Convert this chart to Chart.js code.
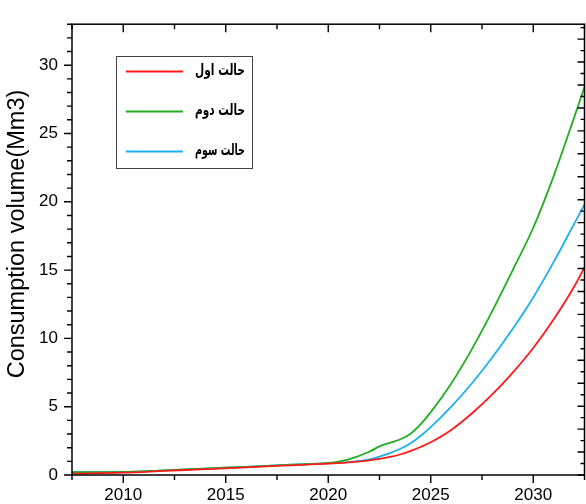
<!DOCTYPE html>
<html>
<head>
<meta charset="utf-8">
<script src="https://cdn.jsdelivr.net/npm/chart.js"></script>
<style>
  html, body { margin: 0; padding: 0; background: #fff; }
  #wrap { width: 586px; height: 504px; }
</style>
</head>
<body>
<div id="wrap"><canvas id="c" width="586" height="504"></canvas></div>
<script>
// values
const years = [2007.5, 2010, 2012, 2014, 2016, 2018, 2020, 2021, 2022, 2022.5, 2023, 2023.5,
               2024, 2024.5, 2025, 2026, 2027, 2028, 2029, 2030, 2031, 2032, 2032.5];
const case1 = [0.1, 0.17, 0.3, 0.43, 0.56, 0.7, 0.83, 0.93, 1.07, 1.18, 1.32, 1.5,
               1.75, 2.05, 2.4, 3.3, 4.5, 5.9, 7.5, 9.3, 11.4, 13.8, 15.2];
const case2 = [0.2, 0.22, 0.34, 0.47, 0.6, 0.74, 0.88, 1.15, 1.7, 2.1, 2.35, 2.6,
               3.0, 3.7, 4.6, 6.7, 9.2, 12.0, 15.0, 18.1, 21.9, 26.2, 28.4];
const case3 = [0.2, 0.22, 0.34, 0.47, 0.6, 0.74, 0.86, 0.95, 1.15, 1.35, 1.6, 1.9,
               2.3, 2.85, 3.5, 5.0, 6.7, 8.6, 10.7, 13.0, 15.6, 18.4, 19.8];
const seriesNames = ["حالت اول", "حالت دوم", "حالت سوم"];
const seriesColors = ["#ff1a1a", "#22ad22", "#1cb0ee"];
const xTicks = [2010, 2015, 2020, 2025, 2030];
const yTicks = [0, 5, 10, 15, 20, 25, 30];
const yTitle = 'Consumption volume(Mm3)';

const tickFont = { family: '"Liberation Sans", Arial, sans-serif', size: 17 };

// draws the frame and the major/minor tick marks on all four sides
const tickMarks = {
  id: 'tickMarks',
  afterDraw(chart) {
    const { ctx, chartArea: a, scales: { x, y, y2 } } = chart;
    ctx.save();
    ctx.strokeStyle = '#000';
    ctx.lineWidth = 1.4;
    ctx.beginPath();
    for (let v = y.min; v <= y.max; v++) {
      const py = y.getPixelForValue(v);
      const len = v % 5 === 0 ? 8 : 5;
      ctx.moveTo(a.left - len, py);
      ctx.lineTo(a.left, py);
    }
    for (let v = x.min; v <= x.max; v += 2.5) {
      const px = x.getPixelForValue(v);
      const len = v % 5 === 0 ? 8 : 5;
      ctx.moveTo(px, a.bottom);
      ctx.lineTo(px, a.bottom + len);
      ctx.moveTo(px, a.top);
      ctx.lineTo(px, a.top + len);
    }
    for (let v = 0; v <= y2.max; v++) {
      const py = y2.getPixelForValue(v);
      const len = v % 2 === 0 ? 7 : 4;
      ctx.moveTo(a.right - len, py);
      ctx.lineTo(a.right, py);
    }
    ctx.stroke();
    ctx.lineWidth = 1.5;
    ctx.strokeRect(a.left, a.top, a.width, a.height);

    // y axis title, sitting a little above the middle as in the original
    ctx.fillStyle = '#000';
    ctx.font = '23.5px "Liberation Sans", Arial, sans-serif';
    ctx.textAlign = 'center';
    ctx.textBaseline = 'middle';
    ctx.translate(18, 234);
    ctx.rotate(-Math.PI / 2);
    ctx.fillText(yTitle, 0, 0);
    ctx.restore();
  }
};

// boxed legend inside the plot, like the original
const boxLegend = {
  id: 'boxLegend',
  afterDraw(chart) {
    const ctx = chart.ctx;
    ctx.save();
    ctx.fillStyle = '#fff';
    ctx.fillRect(116.5, 56.5, 136, 112);
    ctx.strokeStyle = '#444';
    ctx.lineWidth = 1;
    ctx.strokeRect(116.5, 56.5, 136, 112);
    chart.data.datasets.forEach((ds, i) => {
      const ly = 71.5 + i * 40;
      ctx.strokeStyle = ds.borderColor;
      ctx.lineWidth = 2;
      ctx.beginPath();
      ctx.moveTo(126, ly);
      ctx.lineTo(183, ly);
      ctx.stroke();
      // the original uses a narrow bold face, so squeeze the text to its width
      ctx.fillStyle = '#000';
      ctx.font = 'bold 16px "DejaVu Sans", sans-serif';
      ctx.direction = 'rtl';
      ctx.textAlign = 'right';
      ctx.textBaseline = 'middle';
      const w = ctx.measureText(ds.label).width;
      const k = Math.min(1, 50 / w);
      ctx.save();
      ctx.translate(245, ly - 1);
      ctx.scale(k, 1);
      ctx.fillText(ds.label, 0, 0);
      ctx.restore();
    });
    ctx.restore();
  }
};

const sets = [case1, case2, case3].map((vals, i) => ({
  label: seriesNames[i],
  data: years.map((t, k) => ({ x: t, y: vals[k] })),
  borderColor: seriesColors[i],
  borderWidth: 1.8,
  pointRadius: 0,
  fill: false,
  cubicInterpolationMode: 'monotone'
}));

new Chart(document.getElementById('c'), {
  type: 'line',
  data: { datasets: sets },
  options: {
    responsive: false,
    animation: false,
    events: [],
    layout: { padding: { top: 16, right: 1.5, left: 0, bottom: 0 } },
    plugins: { legend: { display: false }, tooltip: { enabled: false } },
    scales: {
      x: {
        type: 'linear',
        min: 2007.5,
        max: 2032.5,
        afterBuildTicks: s => { s.ticks = xTicks.map(v => ({ value: v })); },
        ticks: { font: tickFont, color: '#000', padding: 10, maxRotation: 0, callback: v => String(v) },
        grid: { display: false, drawTicks: false },
        border: { display: false },
        afterFit: s => { s.height = 29; }
      },
      y: {
        min: 0,
        max: 33,
        afterBuildTicks: s => { s.ticks = yTicks.map(v => ({ value: v })); },
        ticks: { font: tickFont, color: '#000', padding: 14 },
        grid: { display: false, drawTicks: false },
        border: { display: false },
        afterFit: s => { s.width = 72; }
      },
      y2: {
        position: 'right',
        min: 0,
        max: 39.3,
        ticks: { display: false },
        grid: { display: false, drawTicks: false },
        border: { display: false },
        afterFit: s => { s.width = 0; }
      }
    }
  },
  plugins: [tickMarks, boxLegend]
});
</script>
</body>
</html>
